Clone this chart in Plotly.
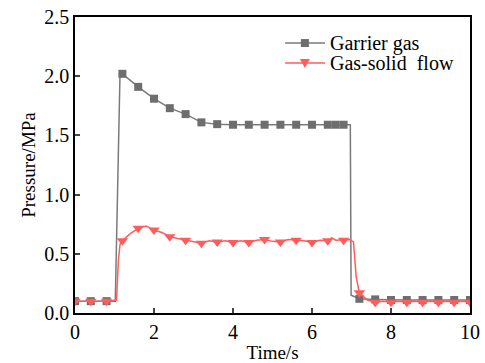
import plotly.graph_objects as go

# Carrier gas series (time in s, pressure in MPa); mark = 1 where a symbol is drawn
gas_t = [0.0, 0.4, 0.8, 1.02, 1.14, 1.2, 1.6, 2.0, 2.4, 2.8, 3.2, 3.6, 4.0, 4.4, 4.8,
         5.2, 5.6, 6.0, 6.4, 6.6, 6.8, 6.97, 6.99, 7.2, 7.6, 8.0, 8.4, 8.8, 9.2, 9.6, 10.0]
gas_p = [0.10, 0.10, 0.10, 0.10, 2.03, 2.02, 1.91, 1.81, 1.73, 1.68, 1.61, 1.595, 1.59, 1.59, 1.59,
         1.59, 1.59, 1.59, 1.59, 1.59, 1.59, 1.59, 0.15, 0.12, 0.115, 0.11, 0.11, 0.11, 0.11, 0.11, 0.11]
gas_mark = [1, 1, 1, 0, 0, 1, 1, 1, 1, 1, 1, 1, 1, 1, 1,
            1, 1, 1, 1, 1, 1, 0, 0, 1, 1, 1, 1, 1, 1, 1, 1]

# Gas-solid flow series
flow_t = [0.0, 0.4, 0.8, 1.05, 1.1, 1.14, 1.2, 1.4, 1.6, 1.8, 2.0, 2.2, 2.4, 2.6, 2.8, 3.0,
          3.2, 3.4, 3.6, 3.8, 4.0, 4.2, 4.4, 4.6, 4.8, 5.0, 5.2, 5.4, 5.6, 5.8, 6.0, 6.2,
          6.4, 6.5, 6.6, 6.8, 6.95, 7.05, 7.12, 7.2, 7.4, 7.6, 7.8, 8.0, 8.2, 8.4, 8.6,
          8.8, 9.0, 9.2, 9.4, 9.6, 9.8, 10.0]
flow_p = [0.10, 0.10, 0.10, 0.11, 0.45, 0.58, 0.61, 0.67, 0.715, 0.735, 0.70, 0.68, 0.645, 0.63, 0.615, 0.60,
          0.59, 0.61, 0.60, 0.61, 0.595, 0.61, 0.595, 0.615, 0.62, 0.605, 0.60, 0.62, 0.615, 0.61, 0.595, 0.615,
          0.61, 0.635, 0.615, 0.615, 0.62, 0.60, 0.30, 0.17, 0.11, 0.09, 0.10, 0.09, 0.10, 0.09, 0.10,
          0.09, 0.10, 0.09, 0.10, 0.09, 0.10, 0.09]
flow_mark = [1, 1, 1, 0, 0, 0, 1, 0, 1, 0, 1, 0, 1, 0, 1, 0,
             1, 0, 1, 0, 1, 0, 1, 0, 1, 0, 1, 0, 1, 0, 1, 0,
             1, 0, 0, 1, 0, 0, 0, 1, 0, 1, 0, 1, 0, 1, 0,
             1, 0, 1, 0, 1, 0, 1]

series_names = ["Garrier gas", "Gas-solid\u00a0 flow"]
x_ticks = [0, 2, 4, 6, 8, 10]
y_ticks = [0.0, 0.5, 1.0, 1.5, 2.0, 2.5]

GRAY = "#6e6e6e"
GRAY_LINE = "#7a7a7a"
RED = "#ff5c5c"
FONT = "Liberation Serif, Times New Roman, serif"

fig = go.Figure()

def add_series(t, p, mark, name, line_color, marker_color, symbol, msize):
    fig.add_trace(go.Scatter(x=t, y=p, mode="lines", line=dict(color=line_color, width=1.5),
                             showlegend=False, hoverinfo="skip", name=name))
    mt = [a for a, m in zip(t, mark) if m]
    mp = [b for b, m in zip(p, mark) if m]
    fig.add_trace(go.Scatter(x=mt, y=mp, mode="markers", name=name,
                             marker=dict(symbol=symbol, size=msize, color=marker_color),
                             showlegend=False))

add_series(gas_t, gas_p, gas_mark, series_names[0], GRAY_LINE, GRAY, "square", 8)
add_series(flow_t, flow_p, flow_mark, series_names[1], RED, RED, "triangle-down", 10)

# Hand-drawn legend (compact rows as in the reference)
legend_rows = [0.912, 0.845]
lx0, lx1, lxm, ltx = 0.532, 0.633, 0.582, 0.640
colors = [(GRAY_LINE, GRAY), (RED, RED)]
for i, yy in enumerate(legend_rows):
    lc, mc = colors[i]
    fig.add_shape(type="line", xref="paper", yref="paper", x0=lx0, x1=lx1, y0=yy, y1=yy,
                  line=dict(color=lc, width=1.5))
    if i == 0:
        fig.add_shape(type="rect", xref="paper", yref="paper", xsizemode="pixel", ysizemode="pixel",
                      xanchor=lxm, yanchor=yy, x0=-4, x1=4, y0=-4, y1=4,
                      fillcolor=mc, line=dict(width=0))
    else:
        fig.add_shape(type="path", xref="paper", yref="paper", xsizemode="pixel", ysizemode="pixel",
                      xanchor=lxm, yanchor=yy, path="M -5 4 L 5 4 L 0 -5 Z",
                      fillcolor=mc, line=dict(width=0))
    fig.add_annotation(x=ltx, y=yy, xref="paper", yref="paper", text=series_names[i],
                       showarrow=False, xanchor="left", yanchor="middle",
                       font=dict(family=FONT, size=20, color="black"))

fig.update_layout(
    width=485, height=363,
    margin=dict(l=75, r=15, t=17, b=50),
    paper_bgcolor="white", plot_bgcolor="white",
    font=dict(family=FONT, size=18, color="black"),
    showlegend=False,
    xaxis=dict(range=[0, 10], tickvals=x_ticks, ticks="inside", ticklen=5, tickwidth=1.5,
               tickfont=dict(family=FONT, size=20, color="black"),
               showline=True, linecolor="black", linewidth=1.5, mirror=True,
               showgrid=False, zeroline=False, automargin=False,
               title=dict(text="Time/s", font=dict(family=FONT, size=19), standoff=5)),
    yaxis=dict(range=[0, 2.5], tickvals=y_ticks, tickformat=".1f", ticks="inside",
               ticklen=5, tickwidth=1.5,
               tickfont=dict(family=FONT, size=20, color="black"),
               showline=True, linecolor="black", linewidth=1.5, mirror=True,
               showgrid=False, zeroline=False, automargin=False,
               title=dict(text="Pressure/MPa", font=dict(family=FONT, size=19), standoff=4)),
)

fig.write_html("out.html")
